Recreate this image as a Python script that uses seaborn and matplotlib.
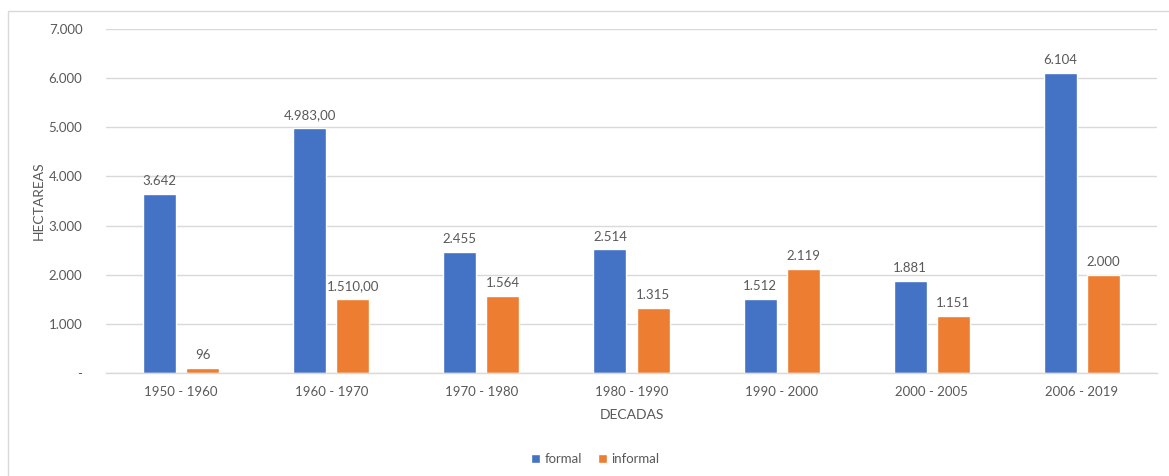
import matplotlib
matplotlib.use("Agg")
import matplotlib.pyplot as plt
from matplotlib.patches import Rectangle, Patch
import seaborn as sns
import pandas as pd

# Hectares urbanised per period
decadas = ["1950 - 1960", "1960 - 1970", "1970 - 1980", "1980 - 1990",
           "1990 - 2000", "2000 - 2005", "2006 - 2019"]
formal = [3642, 4983, 2455, 2514, 1512, 1881, 6104]
informal = [96, 1510, 1564, 1315, 2119, 1151, 2000]
# decimals shown in each period's value labels
decimales = [0, 2, 0, 0, 0, 0, 0]
y_ticks = [0, 1000, 2000, 3000, 4000, 5000, 6000, 7000]

BLUE = "#4472C4"
ORANGE = "#ED7D31"
TEXT = "#595959"
GRID = "#D9D9D9"

sns.set_theme(style="white")
plt.rcParams["font.family"] = ["Lato", "DejaVu Sans"]


def es_num(v, dec=0):
    s = f"{v:,.{dec}f}"
    return s.replace(",", "X").replace(".", ",").replace("X", ".")


df = pd.DataFrame({
    "decada": decadas * 2,
    "serie": ["formal"] * len(decadas) + ["informal"] * len(decadas),
    "valor": formal + informal,
})

fig = plt.figure(figsize=(11.69, 4.76), dpi=100)
ax = fig.add_axes([106 / 1169, 1 - 373 / 476, 1051 / 1169, 344 / 476])

sns.barplot(data=df, x="decada", y="valor", hue="serie",
            palette={"formal": BLUE, "informal": ORANGE},
            width=0.573, gap=0.233, saturation=1, legend=False, ax=ax,
            order=decadas, hue_order=["formal", "informal"])

ax.set_xlim(-0.5, len(decadas) - 0.5)
ax.set_ylim(0, 7000)
ax.set_yticks(y_ticks)
ax.set_yticklabels([es_num(t) if t else "-" for t in y_ticks])
ax.yaxis.grid(True, color=GRID, linewidth=1)
ax.set_axisbelow(True)
for side in ["left", "right", "top"]:
    ax.spines[side].set_visible(False)
ax.spines["bottom"].set_color(GRID)
ax.spines["bottom"].set_linewidth(1)
ax.tick_params(axis="both", length=0, colors=TEXT, labelsize=9.5)
ax.tick_params(axis="y", pad=17)
ax.tick_params(axis="x", pad=9)

ax.set_xlabel("DECADAS", color=TEXT, fontsize=10, labelpad=8)
ax.set_ylabel("HECTAREAS", color=TEXT, fontsize=10, labelpad=3)

# value labels above each bar
for container, vals in zip(ax.containers, [formal, informal]):
    labels = [es_num(v, d) for v, d in zip(vals, decimales)]
    ax.bar_label(container, labels=labels, padding=5, color=TEXT, fontsize=9.5)

handles = [Patch(facecolor=BLUE, label="formal"),
           Patch(facecolor=ORANGE, label="informal")]
fig.legend(handles=handles, loc="center", bbox_to_anchor=(595 / 1169, 1 - 459 / 476),
           ncol=2, frameon=False, fontsize=9.5, handlelength=0.7, handleheight=0.7,
           handletextpad=0.3, columnspacing=1.2, labelcolor=TEXT)

# chart frame
fig.patches.append(Rectangle((8 / 1169, -0.01), 1.2, 1 - 11 / 476 + 0.01,
                             transform=fig.transFigure, fill=False,
                             edgecolor=GRID, linewidth=1))

fig.savefig("out.png", dpi=100)
